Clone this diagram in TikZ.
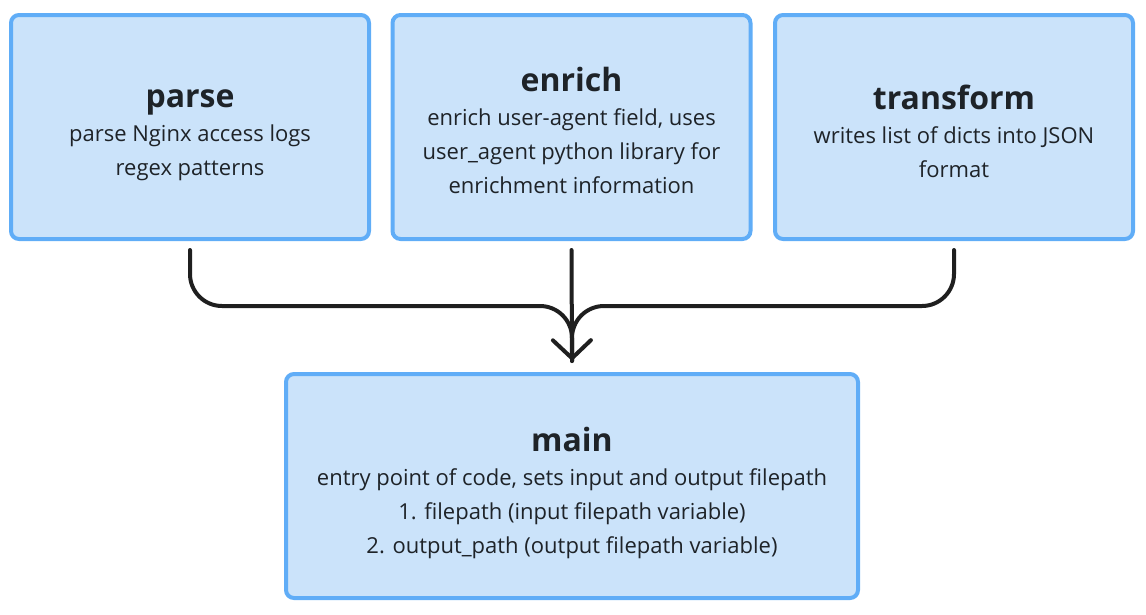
\documentclass[tikz,border=0pt]{standalone}
\usepackage{fontspec}
\setmainfont{Open Sans}
\usetikzlibrary{arrows.meta}
\definecolor{boxfill}{HTML}{CBE3FA}
\definecolor{boxline}{HTML}{60ADF7}
\definecolor{txt}{HTML}{1E2328}
\definecolor{wire}{HTML}{1F1F1F}
\tikzset{
  box/.style={draw=boxline, fill=boxfill, line width=4pt, rounded corners=8pt,
    minimum width=358pt, minimum height=224pt, inner sep=0pt},
  lbl/.style={align=center, text=txt, inner sep=0pt, font=\fontsize{22}{34}\selectfont},
  wirestyle/.style={draw=wire, line width=4pt, line cap=round, line join=round, rounded corners=32pt},
}
\newcommand{\ttl}[1]{{\fontsize{32}{32}\selectfont\bfseries #1}\\[0pt]}
\begin{document}
\begin{tikzpicture}[x=1pt,y=-1pt]
\useasboundingbox (0,0) rectangle (1146,614);
\node[box, label={[name=parse-txt, lbl, yshift=-8pt]center:{\ttl{parse}parse Nginx access logs\\regex patterns}}] (parse) at (190,127) {};
\node[box, label={[name=enrich-txt, lbl, yshift=-3pt]center:{\ttl{enrich}enrich user-agent field, uses\\user\_agent python library for\\enrichment information}}] (enrich) at (571.5,127) {};
\node[box, label={[name=transform-txt, lbl, yshift=-4pt]center:{\ttl{transform}writes list of dicts into JSON\\format}}] (transform) at (954,127) {};
\node[box, minimum width=572pt, label={[name=main-txt, lbl, yshift=-7pt]center:{\ttl{main}entry point of code, sets input and output filepath\\1. filepath (input filepath variable)\\2. output\_path (output filepath variable)}}] (main) at (572,486) {};
\coordinate (tip) at ([yshift=11pt]main.north);
\coordinate (ps) at ([yshift=-9pt]parse.south);
\coordinate (es) at ([yshift=-9pt]enrich.south);
\coordinate (ts) at ([yshift=-9pt]transform.south);
\draw[wirestyle] (ps) -- (ps |- 0,306) -- (tip |- 0,306) -- (tip);
\draw[wirestyle] (ts) -- (ts |- 0,306) -- (tip |- 0,306) -- (tip);
\draw[wirestyle, -{Straight Barb[length=18pt, width=38pt, line cap=round]}] (es) -- (tip);
\end{tikzpicture}
\end{document}
